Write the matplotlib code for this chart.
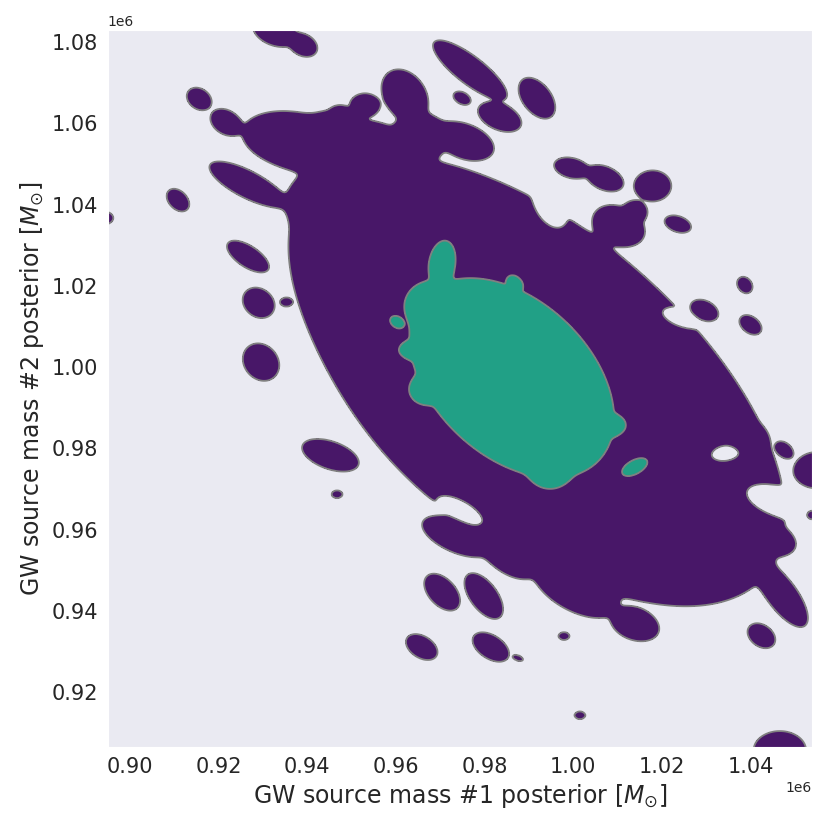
import numpy as np
import matplotlib
matplotlib.use("Agg")
import matplotlib.pyplot as plt
import seaborn as sns

sns.set_style("dark")
plt.rcParams['font.family'] = ['DejaVu Sans']

# posterior density blobs, in units of 1e3 M_sun
# (centre x, centre y, semi-axes at the outer level, angle in degrees)
purple_x = [991.8, 937.2, 946.2, 954.1, 965.4, 953.0, 962.0, 975.5, 945.1, 1010.5,
            1017.9, 1013.9, 1023.6, 1029.7, 1045.4, 1047.7, 1038.7, 973.3, 1013.9,
            1000.3, 984.6,
            932.7, 939.0, 976.7, 974.9, 983.4, 991.8, 915.6, 921.6, 948.0, 925.9,
            910.8, 894.1, 926.4, 928.9, 935.2, 929.5, 999.7, 1007.1, 1038.7, 1040.0,
            1047.7, 1055.1, 1042.5, 1046.6, 979.8, 970.4, 965.8, 981.4, 987.5, 997.9,
            1001.5, 1053.8, 945.1, 946.7]
purple_y = [996.6, 1055.9, 1057.1, 1053.4, 1057.1, 1064.5, 1067.0, 1055.9, 1041.1, 1035.0,
            1044.6, 1038.2, 1035.2, 1014.0, 957.4, 943.1, 982.0, 958.2, 936.5,
            945.1, 953.7,
            1082.5, 1079.3, 1073.1, 1066.2, 1061.6, 1066.2, 1066.0, 1060.3, 1062.1, 1045.3,
            1041.1, 1036.7, 1027.3, 1015.8, 1016.0, 1001.2, 1049.0, 1046.5, 1020.2, 1010.4,
            979.6, 974.7, 933.8, 905.7, 943.6, 944.6, 931.1, 931.1, 928.4, 933.8,
            914.3, 963.6, 978.3, 968.7]
purple_a = [70.5, 11.8, 7.1, 7.1, 5.9, 3.3, 6.6, 6.6, 8.2, 5.9,
            4.2, 2.8, 3.1, 3.1, 4.2, 7.8, 4.2, 7.8, 5.2,
            9.4, 7.1,
            5.2, 3.5, 10.6, 2.1, 5.2, 5.6, 3.1, 3.8, 2.8, 8.9,
            3.1, 2.1, 5.2, 3.8, 1.2, 4.7, 4.0, 4.5, 2.1, 2.8,
            2.1, 4.7, 3.3, 5.9, 6.3, 5.2, 4.0, 4.7, 1.2, 1.2,
            1.2, 0.9, 6.6, 1.2]
purple_b = [35.3, 6.6, 5.9, 6.6, 5.2, 2.8, 4.7, 3.8, 6.6, 4.2,
            3.8, 2.8, 1.9, 2.1, 2.8, 3.1, 3.5, 3.5, 3.5,
            4.7, 3.5,
            3.3, 2.6, 3.3, 1.4, 3.1, 3.3, 2.4, 2.8, 2.1, 3.1,
            2.1, 1.6, 2.4, 3.1, 0.9, 3.8, 2.4, 2.8, 1.6, 1.9,
            1.4, 4.2, 2.4, 4.7, 3.1, 3.1, 2.6, 2.8, 0.6, 0.9,
            0.9, 0.9, 3.3, 0.9]
purple_ang = [-44.5, -12, 0, 0, 0, 0, -62, -24, 0, -32,
              0, 0, -22, -32, -22, -57, 0, -27, -22,
              -32, -42,
              -24, -34, -40.5, -32, -27, -57, -44, -39, -22, -30,
              -52, 0, -37, -52, 0, -62, -16, -27, -62, -42.5,
              -47.5, 0, -42.5, 0, -57, -52, -37, -37, -22, 0,
              0, 0, -22, 0]

hole_x = [994.7, 1034.2, 1024.0, 1044.8, 974.9]
hole_y = [1038.7, 978.8, 1012.1, 967.3, 965.0]
hole_a = [4.2, 3.3, 3.5, 5.6, 5.2]
hole_b = [2.4, 1.9, 1.6, 2.8, 2.1]
hole_ang = [-62, 11, -22, -22, -32]

teal_x = [986.1, 970.4, 967.7, 964.3, 966.5, 1008.2, 994.7, 986.8, 960.2, 1013.9]
teal_y = [997.3, 1025.9, 1015.3, 1004.2, 994.4, 985.7, 974.7, 1020.7, 1011.1, 975.4]
teal_a = [28.2, 5.2, 5.2, 3.3, 3.3, 3.3, 4.2, 1.9, 1.6, 3.1]
teal_b = [18.3, 2.8, 5.2, 2.1, 3.3, 2.4, 4.2, 1.4, 1.2, 1.6]
teal_ang = [-49.5, 81, 0, 0, 0, 0, 0, -52, -42, 32]


def field(X, Y, cx, cy, aa, bb, ang, peak):
    k = np.sqrt(2 * np.log(20))  # blob edge sits at peak / 20
    f = np.zeros_like(X)
    for x0, y0, a, b, t in zip(cx, cy, aa, bb, ang):
        th = np.deg2rad(t)
        dx, dy = X - x0, Y - y0
        u = dx * np.cos(th) + dy * np.sin(th)
        v = -dx * np.sin(th) + dy * np.cos(th)
        f += peak * np.exp(-0.5 * ((u * k / a) ** 2 + (v * k / b) ** 2))
    return f


xs = np.linspace(880, 1070, 700)
ys = np.linspace(895, 1095, 700)
X, Y = np.meshgrid(xs, ys)
Z = field(X, Y, purple_x, purple_y, purple_a, purple_b, purple_ang, 20.0)
Z += field(X, Y, hole_x, hole_y, hole_a, hole_b, hole_ang, -40.0)
Z += field(X, Y, teal_x, teal_y, teal_a, teal_b, teal_ang, 1e4)

fig, ax = plt.subplots(figsize=(8.3, 8.3), dpi=100)
fig.subplots_adjust(left=0.130, right=0.978, bottom=0.100, top=0.964)
ax.contourf(X * 1e3, Y * 1e3, Z, levels=[1, 500, 1e9],
            colors=['#481768', '#21a086'])
ax.contour(X * 1e3, Y * 1e3, Z, levels=[1, 500], colors='grey', linewidths=1.3)

ax.set_xlim(895.0e3, 1053.8e3)
ax.set_ylim(906.5e3, 1083.0e3)
ax.set_xticks(np.arange(0.90e6, 1.041e6, 0.02e6))
ax.set_yticks(np.arange(0.92e6, 1.081e6, 0.02e6))
ax.tick_params(labelsize=15)
ax.xaxis.get_offset_text().set_fontsize(10)
ax.yaxis.get_offset_text().set_fontsize(10)
ax.set_xlabel(r'GW source mass #1 posterior [$M_{\odot}$]', fontsize=17)
ax.set_ylabel(r'GW source mass #2 posterior [$M_{\odot}$]', fontsize=17)

fig.savefig('out.png')
